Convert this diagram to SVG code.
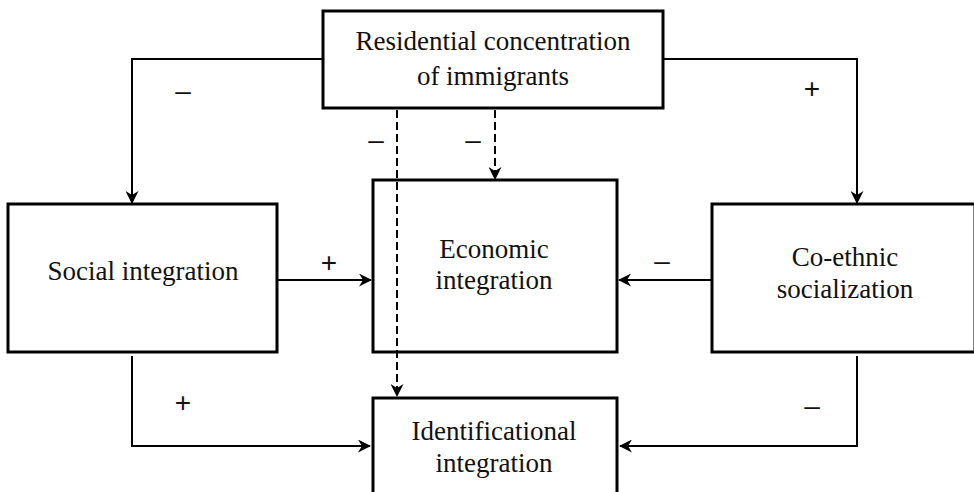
<svg xmlns="http://www.w3.org/2000/svg" width="974" height="492" viewBox="0 0 974 492">
<style>
.box{fill:#fff;stroke:#000;stroke-width:3}
.t{font-family:'Liberation Serif','Times New Roman',Times,serif;font-size:27px;fill:#111;text-anchor:middle}
.s{font-family:'Liberation Sans',Arial,sans-serif;font-size:28px;fill:#111;text-anchor:middle}
.c{fill:none;stroke:#000;stroke-width:2}
.d{fill:none;stroke:#000;stroke-width:2;stroke-dasharray:8 4}
</style>
<defs>
<marker id="ah" viewBox="0 0 13 13" refX="12" refY="6.5" markerWidth="13" markerHeight="13" markerUnits="userSpaceOnUse" orient="auto">
<path d="M0,0 L13,6.5 L0,13 L4,6.5 z" fill="#000"/>
</marker>
</defs>
<rect width="974" height="492" fill="#fff"/>
<g id="economic">
<rect class="box" x="373" y="180" width="244" height="172"/>
<text class="t" x="494" y="258">Economic</text>
<text class="t" x="494" y="289">integration</text>
</g>
<g id="connectors">
<path class="c" d="M322,59 H132 V203" marker-end="url(#ah)"/>
<path class="c" d="M664,59 H857 V203" marker-end="url(#ah)"/>
<path class="c" d="M277,280 H371" marker-end="url(#ah)"/>
<path class="c" d="M711,280 H619" marker-end="url(#ah)"/>
<path class="c" d="M132,356 V446 H370" marker-end="url(#ah)"/>
<path class="c" d="M857,356 V446 H620" marker-end="url(#ah)"/>
<path class="d" d="M397,110 V396" marker-end="url(#ah)"/>
<path class="d" d="M495,110 V179" marker-end="url(#ah)"/>
<text class="s" x="183" y="100">–</text>
<text class="s" x="812" y="98">+</text>
<text class="s" x="376" y="149">–</text>
<text class="s" x="473" y="149">–</text>
<text class="s" x="329" y="272">+</text>
<text class="s" x="662" y="270">–</text>
<text class="s" x="183" y="412">+</text>
<text class="s" x="812" y="415">–</text>
</g>
<g id="residential">
<rect class="box" x="323" y="11" width="340" height="97"/>
<text class="t" x="493" y="50">Residential concentration</text>
<text class="t" x="493" y="85">of immigrants</text>
</g>
<g id="social">
<rect class="box" x="8" y="204" width="269" height="148"/>
<text class="t" x="143" y="280">Social integration</text>
</g>
<g id="coethnic">
<rect class="box" x="712" y="204" width="263" height="148"/>
<text class="t" x="845" y="266">Co-ethnic</text>
<text class="t" x="845" y="298">socialization</text>
</g>
<g id="identificational">
<rect class="box" x="373" y="398" width="244" height="110"/>
<text class="t" x="494" y="440">Identificational</text>
<text class="t" x="494" y="472">integration</text>
</g>
</svg>
